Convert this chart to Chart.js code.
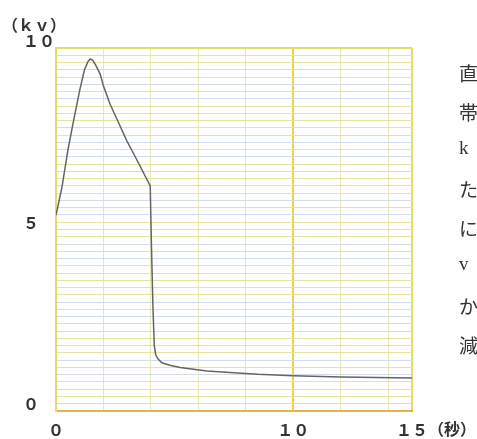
<!DOCTYPE html>
<html>
<head>
<meta charset="utf-8">
<script src="https://cdn.jsdelivr.net/npm/chart.js@4"></script>
<style>
  body { margin: 0; background: #fff; }
  #wrap { position: relative; width: 477px; height: 439px; overflow: hidden; }
  #side div {
    position: absolute;
    font: 19px "Liberation Serif", "Noto Sans CJK JP", serif;
    color: #333;
    white-space: nowrap;
  }
</style>
</head>
<body>
<div id="wrap">
  <canvas id="chart"></canvas>
  <div id="side"></div>
</div>
<script>
// time (s) and voltage (kV)
const times = [0, 0.25, 0.5, 0.72, 1.0, 1.2, 1.35, 1.45, 1.55, 1.68, 1.86, 2.0, 2.28, 2.56, 2.98,
  3.26, 3.54, 3.97, 4.02, 4.08, 4.14, 4.2, 4.3, 4.46, 4.8, 5.23, 6.36, 7.34, 8.5, 10, 12, 15];
const volts = [5.4, 6.16, 7.18, 7.93, 8.84, 9.4, 9.63, 9.7, 9.66, 9.52, 9.28, 8.95, 8.45, 8.05, 7.45,
  7.1, 6.75, 6.2, 4.6, 2.96, 1.8, 1.55, 1.43, 1.33, 1.26, 1.2, 1.1, 1.06, 1.01, 0.97, 0.94, 0.91];

const xGridValues = [0, 2, 4, 6, 8, 10, 12, 14, 15];
const xLabelValues = [0, 10, 15];
const xLabelText = ['０', '１０', '１５'];
const yLabelValues = [0, 5, 10];
const yLabelText = ['０', '５', '１０'];
const yUnit = '（ｋｖ）';
const xUnit = '（秒）';
// first characters of the book text beside the chart
const sideText = ['直', '帯', ' k', 'た', 'に', ' v', 'か', '減'];

const side = document.getElementById('side');
sideText.forEach((t, i) => {
  const d = document.createElement('div');
  d.textContent = t;
  d.style.left = '459px';
  d.style.top = (59 + i * 38.8) + 'px';
  side.appendChild(d);
});

const labelFont = { family: '"Noto Sans CJK JP", sans-serif', size: 16, weight: 'bold' };

const unitLabels = {
  id: 'unitLabels',
  afterDraw(chart) {
    const ctx = chart.ctx;
    const xs = chart.scales.x;
    ctx.save();
    ctx.fillStyle = '#333';
    ctx.font = 'bold 16px "Noto Sans CJK JP", sans-serif';
    ctx.textBaseline = 'middle';
    ctx.textAlign = 'left';
    ctx.fillText(yUnit, 2, 25);
    ctx.fillText(xUnit, xs.getPixelForValue(15) + 16, 429);
    ctx.restore();
  }
};

function yGridColor(ctx) {
  const v = ctx.tick.value;
  if (v >= 10) return '#e6dc6a';
  const i = Math.round(v * 5);
  return i % 2 === 0 ? '#e2e6a2' : '#d3dcec';
}

new Chart(document.getElementById('chart'), {
  type: 'line',
  data: {
    datasets: [{
      data: times.map((t, i) => ({ x: t, y: volts[i] })),
      borderColor: '#656565',
      borderWidth: 1.5,
      pointRadius: 0,
      tension: 0,
      fill: false
    }]
  },
  options: {
    responsive: true,
    maintainAspectRatio: false,
    animation: false,
    layout: { padding: { left: 23, top: 48, right: 65, bottom: 0 } },
    plugins: { legend: { display: false }, tooltip: { enabled: false } },
    scales: {
      x: {
        type: 'linear',
        min: 0,
        max: 15,
        afterBuildTicks: s => { s.ticks = xGridValues.map(v => ({ value: v })); },
        afterFit: s => { s.height = 28; },
        ticks: {
          autoSkip: false,
          maxRotation: 0,
          padding: 9,
          color: '#333',
          font: labelFont,
          callback: v => {
            const k = xLabelValues.indexOf(v);
            return k >= 0 ? xLabelText[k] : '';
          }
        },
        grid: {
          drawTicks: false,
          color: c => (c.tick.value === 10 ? '#efd23c' : (c.tick.value === 15 ? '#e6dc6a' : '#e6eab4')),
          lineWidth: c => (c.tick.value === 10 || c.tick.value === 15 ? 2 : 1)
        },
        border: { color: '#e6b444', width: 2 }
      },
      y: {
        type: 'linear',
        min: 0,
        max: 10,
        afterBuildTicks: s => {
          const t = [];
          for (let i = 0; i <= 50; i++) t.push({ value: Math.round(i * 2) / 10 });
          s.ticks = t;
        },
        afterFit: s => { s.width = 33; },
        ticks: {
          autoSkip: false,
          crossAlign: 'far',
          labelOffset: -7,
          color: '#333',
          font: labelFont,
          callback: v => {
            const k = yLabelValues.indexOf(v);
            return k >= 0 ? yLabelText[k] : '';
          }
        },
        grid: {
          drawTicks: false,
          color: yGridColor,
          lineWidth: c => (c.tick.value >= 10 ? 2 : 1)
        },
        border: { color: '#e6dc6a', width: 2 }
      }
    }
  },
  plugins: [unitLabels]
});
</script>
</body>
</html>
